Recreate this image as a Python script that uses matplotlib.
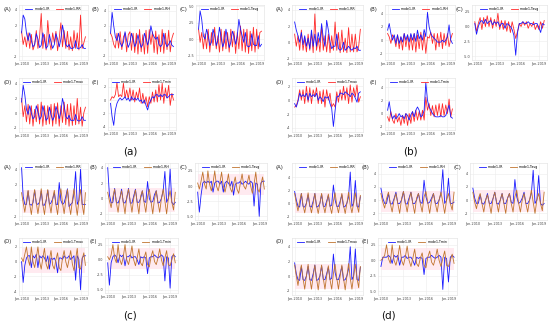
import matplotlib
matplotlib.use("Agg")
import matplotlib.pyplot as plt
import matplotlib.dates as mdates
import pandas as pd
import numpy as np

plt.rcParams['axes.unicode_minus'] = False
plt.rcParams['font.family'] = ['DejaVu Sans']

dates = pd.date_range('2010-01-01', periods=40, freq='QS')
xtick_dates = pd.to_datetime(['2010-01-01', '2013-01-01', '2016-01-01', '2019-01-01'])

# ---------------- panel (a) ----------------
a_A_ir = [1.0, 3.3, 2.8, 1.0, 0.0, 1.0, 0.0, -0.8, -0.5, 0.9, 0.2, -0.9, -0.6, 1.0, 0.1, -1.0, -0.7, 0.8, -0.2, -1.0,
          -0.5, 0.9, 0.2, -0.8, 0.2, 2.0, 0.8, -0.5, -0.8, -0.5, -1.0, -1.0, -0.9, 0.0, -1.0, -1.0, -0.9, -0.5, -1.0, -1.0]
a_A_rr = [1.2, -0.5, 0.5, -0.8, 1.0, -1.0, 0.8, -1.2, -0.5, 1.3, -1.0, 0.5, 3.5, -1.0, 0.8, -1.2, 2.6, 0.0, -1.2, 1.0,
          -0.3, 1.2, -1.3, 0.3, 2.3, -0.8, 1.3, -1.0, 1.2, -1.2, 0.5, -1.3, 1.3, -1.0, 1.0, -1.2, 3.3, -1.0, -0.3, 0.5]
a_B_ir = [1.0, 3.8, 2.0, 0.5, 0.0, 1.0, -0.3, -0.8, -0.2, 1.2, 0.0, -0.9, -0.3, 1.0, 0.2, -0.8, -0.3, 0.8, -0.2, -0.9,
          -0.5, 1.0, 0.3, -0.6, 0.3, 2.0, 1.0, 0.5, 0.2, 0.5, -0.5, -0.8, -0.5, 1.0, -0.3, -0.8, -0.5, 0.0, -0.6, -0.8]
a_B_rh = [1.0, 0.5, -0.5, -1.0, 1.0, -1.0, 1.2, -1.2, 0.5, 1.0, -1.5, 0.8, 1.2, -1.3, 1.0, -1.6, 1.0, -1.8, 1.5, -1.5,
          0.8, -1.8, 1.4, -1.7, 1.5, -0.5, 1.2, -1.6, 1.3, -1.8, 0.8, -1.5, 1.5, -1.7, 1.0, -1.2, 1.4, -1.5, 0.3, 1.0]
a_C_ir = [1.5, 4.3, 3.0, 0.5, 0.0, 1.5, 0.5, -1.0, -0.5, 1.5, 0.5, -1.0, -0.2, 1.8, 0.3, -1.2, -0.5, 1.5, 0.0, -1.3,
          -0.5, 1.2, 0.5, -0.8, 0.5, 3.0, 1.5, 0.5, -0.5, 1.0, -1.0, -1.2, -1.0, 0.8, -0.8, -1.0, -1.0, 0.5, -1.2, -0.8]
a_C_tavg = [1.5, -0.5, 1.0, -1.5, 0.8, -1.5, 1.5, -2.0, 1.0, -1.0, 1.8, -1.5, 0.5, -2.0, 1.5, -1.8, 1.2, -1.5, 1.0, -2.0,
            1.5, -1.2, 1.2, -2.2, 1.0, -1.5, 2.0, -1.8, 1.5, -2.0, 1.5, -2.2, 1.2, -1.8, 1.8, -2.0, 1.5, -1.5, 1.0, 1.2]
a_D_ir = [1.5, 3.8, 2.5, 0.5, -0.2, 1.0, 0.0, -0.8, -0.5, 1.0, 0.2, -0.9, -0.5, 1.0, 0.0, -1.0, -0.7, 0.8, -0.2, -1.0,
          -0.5, 0.9, 0.2, -0.8, 0.2, 2.0, 1.0, -0.5, -0.8, -0.3, -1.0, -1.0, -1.0, -0.2, -1.0, -1.1, -1.0, -0.5, -1.0, -1.0]
a_D_tmax = [2.0, -0.5, 1.0, -1.2, 1.2, -1.5, 1.0, -1.8, 0.5, -1.2, 1.2, -1.5, 1.5, -1.8, 1.0, -1.6, 1.0, -1.5, 1.2, -1.8,
            1.3, -1.5, 1.4, -1.8, 1.0, -1.3, 1.5, -1.6, 1.2, -1.8, 1.3, -1.7, 1.0, -1.6, 2.0, -1.5, 0.8, -1.8, 0.0, 0.8]
a_E_ir = [-0.5, -2.5, -3.8, -1.5, -0.5, 0.0, 0.3, 0.0, 0.2, 0.5, 0.0, 0.3, -0.2, 0.5, 0.0, 0.3, 0.0, 0.3, -0.2, 0.0,
          -0.5, 0.0, -0.8, -1.5, -0.5, 0.0, 0.5, 0.3, 0.8, 0.8, 0.5, 0.8, 0.5, 0.8, 0.8, 0.3, 0.5, 0.8, 0.8, 0.8]
a_E_tmin = [0.0, 0.5, 0.3, 0.8, 2.6, 0.5, 0.8, 0.5, 2.5, 0.3, 1.5, 0.2, 1.8, 0.0, 1.5, -0.3, 1.2, 0.2, 1.8, -0.5,
            1.0, -0.5, 0.5, -1.0, 0.5, -0.5, 1.2, -0.3, 1.5, -0.3, 2.3, 0.0, 2.5, -0.5, 1.8, 0.3, 2.2, -0.8, 1.0, 0.0]

# ---------------- panel (b) ----------------
b_A_ir = [2.5, 1.5, 0.8, 0.0, 1.2, -0.3, 0.8, -0.5, 0.5, -0.8, 1.5, -0.5, 1.0, -0.5, 1.2, 0.0, 2.3, 0.5, -0.5, 2.7,
          1.5, 0.0, -0.8, -0.5, -0.5, 1.0, -0.8, -1.0, -0.8, 0.0, -1.0, -0.8, -0.5, -0.8, -1.0, -0.7, -0.8, -0.5, -1.0, -1.0]
b_A_rr = [1.0, -0.5, 0.8, -1.0, 1.5, -1.0, 0.5, -1.2, 1.0, -1.0, 1.2, -1.3, 3.5, -1.0, 0.5, -1.2, 2.0, -1.0, 0.8, -1.2,
          1.0, -1.3, 0.8, -1.0, 2.5, -1.0, 1.2, -1.3, 1.5, -1.2, 0.5, -1.3, 1.8, -1.2, 1.0, -1.2, 1.0, -1.2, -0.5, 1.6]
b_B_ir = [1.5, 2.5, 1.0, 0.0, 0.8, -0.5, 0.8, -0.5, 0.5, -0.3, 1.0, 0.0, 0.8, -0.3, 1.0, 0.0, 1.0, -0.2, 1.5, 0.2,
          0.8, 0.0, 1.6, 0.5, 4.2, 2.0, 1.0, 0.5, 0.3, 0.0, -0.3, -0.3, -0.3, 0.0, -0.3, 0.0, 0.5, 2.3, 0.0, -0.5]
b_B_rh = [1.0, 0.5, -0.5, 0.8, 0.3, -1.0, 0.8, -1.3, 0.5, -1.5, 1.0, -1.0, 0.8, -1.5, 0.8, -1.5, 1.0, -1.8, 0.8, -1.3,
          1.2, -1.5, 1.0, -2.0, 0.5, 0.3, 1.2, -0.5, 1.0, -1.5, 1.0, -1.0, 1.2, -1.3, 1.0, -0.8, 1.0, -1.0, 0.2, 1.0]
b_C_ir = [0.5, -1.3, 0.0, 0.8, 1.0, 0.5, 1.2, 0.5, 0.8, 1.0, 0.3, 0.8, 0.5, 0.8, 0.0, 0.5, 0.5, -0.3, 0.5, 0.3,
          0.0, -0.5, -1.5, -4.8, -1.0, 0.5, 0.5, 0.8, 0.5, 0.5, 0.8, 0.5, 0.5, 0.3, 0.5, 0.5, -0.2, -1.0, 0.5, 0.3]
b_C_tavg = [0.8, -0.8, 0.5, 1.5, -0.5, 1.5, 0.0, 1.8, 0.0, 1.5, -0.3, 1.2, 0.0, 2.2, -0.5, 1.0, -0.5, 1.0, -0.8, 0.8,
            -1.0, 0.8, -0.5, -2.0, -0.8, 0.5, 0.0, 0.8, 0.2, 0.8, -0.3, 0.5, 0.0, 0.8, -0.5, 0.3, -0.5, 0.8, -0.3, 1.0]
b_D_ir = [-0.5, -1.0, -0.2, 1.0, 0.5, 0.8, 0.5, 1.0, 0.0, 1.0, 0.5, 0.8, 0.5, 1.0, 0.0, 0.5, 0.2, -0.2, 0.5, 0.3,
          0.5, -0.5, -1.2, -3.8, -1.5, 0.5, 0.5, 1.0, 1.0, 0.8, 1.2, 1.0, 0.8, 0.5, 1.0, 0.8, 0.3, -0.3, 1.0, 1.2]
b_D_tmax = [-1.0, -0.8, 0.0, 1.5, 0.0, 1.5, -0.5, 2.0, -0.3, 1.8, -0.5, 1.5, 0.5, 1.8, -0.5, 1.3, -0.5, 1.5, -1.0, 1.5,
            0.0, 1.0, -1.0, -0.5, -1.0, 1.2, -0.3, 1.5, 0.0, 2.0, 0.0, 1.8, -0.5, 2.2, -0.3, 1.8, 0.5, 2.2, -0.3, 0.5]
b_E_ir = [0.5, 1.8, 0.0, -0.8, -0.3, -0.8, -0.5, 0.0, -0.5, -0.3, -0.8, 0.0, -0.3, -1.0, -0.2, 0.3, -0.5, 0.5, 1.0, 0.5,
          -0.5, -0.3, 0.5, 4.7, 2.0, 1.0, 0.5, 0.0, -0.3, -0.5, -0.5, -0.5, -0.3, -0.5, -0.5, -0.3, 0.5, 1.3, -0.5, -0.7]
b_E_tmin = [-0.5, -1.2, 0.3, -1.0, -1.5, 0.0, -1.3, -0.5, -1.8, -0.3, -1.5, 0.0, -1.8, 0.0, -1.5, 0.3, -1.2, 0.5, -1.0, 0.3,
            -1.0, 0.5, -1.0, 2.5, 0.5, 1.5, -0.3, 1.2, -0.5, 1.3, -0.3, 1.5, -0.5, 1.5, -0.3, 1.3, 0.0, 2.2, -0.5, 0.7]

# ---------------- panel (c) ----------------
c_A_ir = [4.2, 0.5, -0.5, -0.5, 1.2, -0.5, -0.6, -0.3, 1.3, -0.4, -0.5, -0.2, 1.2, -0.6, -0.6, 0.0, 1.3, -0.5, -0.3, 0.2,
          1.0, -0.5, -0.5, 2.3, 0.0, -0.5, -0.3, 0.5, 1.5, -0.8, -0.5, -0.3, 1.0, 3.7, -0.5, 0.0, 4.0, -0.5, -0.5, -0.5]
c_A_rr = [1.0, -0.3, -1.5, 0.0, 1.3, -0.5, -1.8, 0.0, 1.4, -0.3, -1.7, -0.2, 1.5, -0.5, -1.8, 0.0, 1.4, -0.4, -1.6, 0.2,
          1.3, -0.5, -1.8, 0.3, 1.5, -0.3, -1.7, 0.0, 1.4, -0.5, -1.8, 0.0, 1.5, -0.3, -1.9, 0.0, 1.4, -0.5, -1.8, 1.0]
c_B_ir = [4.0, 0.5, -0.6, -0.5, 1.3, -0.5, -0.6, 0.0, 1.2, -0.5, -0.6, 0.0, 1.3, -0.6, -0.6, 0.3, 1.2, -0.5, -0.5, 0.0,
          1.0, -0.4, -0.5, 2.2, 0.0, -0.5, -0.4, 0.5, 1.0, -0.6, -0.5, 0.0, 1.0, 3.5, -0.5, 0.0, 3.8, -0.5, -0.8, -0.5]
c_B_rh = [0.8, -0.3, -1.2, 0.2, 1.2, -0.5, -1.8, 0.0, 1.0, -0.5, -2.0, 0.2, 1.2, -0.3, -1.8, 0.0, 1.1, -0.5, -2.0, 0.3,
          1.0, -0.5, -1.8, 0.2, 1.2, -0.4, -2.0, 0.0, 1.0, -0.5, -1.8, 0.0, 1.2, -0.3, -2.0, 0.0, 1.0, -0.5, -1.5, 0.8]
c_C_ir = [-1.0, -4.3, -1.5, 0.5, 0.8, 0.5, 0.8, 0.5, 0.8, -1.0, 0.5, 0.8, 0.8, 0.3, 0.8, -1.0, 0.5, 0.8, 0.5, 0.0,
          0.8, -1.5, 0.3, 0.5, 0.5, 0.8, 0.3, 0.5, 0.8, 0.5, 0.3, 0.8, 0.5, -3.3, 0.5, 0.3, -5.0, 0.5, 0.8, 0.8]
c_C_tavg = [0.5, -0.5, 0.8, 2.3, 0.3, -0.5, 2.5, 0.3, -0.8, 0.5, 2.5, 0.0, -0.8, 0.5, 2.3, 0.0, -1.0, 0.3, 2.0, -0.3,
            -1.0, 0.3, 1.5, -0.5, -1.2, 0.5, 2.0, 0.0, -0.5, 0.5, 1.8, 0.0, -1.2, 0.3, 2.3, -0.5, -1.0, 0.3, 1.5, -0.5]
c_D_ir = [0.0, -2.8, -0.5, 0.5, 0.8, 0.8, -0.8, 0.8, 0.5, 1.0, -0.8, 0.8, 0.5, 0.8, 0.5, 0.0, 0.8, -1.0, 0.5, 0.3,
          0.5, 0.0, -1.5, 0.5, 0.5, 0.3, 0.8, 0.5, 0.5, 0.8, 0.3, 0.5, 0.8, -2.5, 0.8, 0.3, -3.8, 0.5, 0.8, 0.8]
c_D_tmax = [0.5, 0.0, 1.0, 2.0, 0.3, -0.5, 2.0, 0.0, -0.8, 0.5, 2.0, 0.0, -1.0, 0.5, 1.8, -0.3, -1.0, 0.3, 1.5, -0.5,
            -1.0, 0.3, 1.2, -0.8, -1.2, 0.5, 1.5, 0.0, -0.8, 0.3, 1.5, -0.3, -1.2, 0.3, 1.8, -0.8, -1.0, 0.3, 1.2, -0.5]
c_E_ir = [-0.5, -4.2, -0.5, 0.5, 0.8, 0.5, -0.5, 0.8, 0.5, 0.8, -1.0, 0.5, 0.5, 0.8, 0.3, 0.5, 0.5, 0.0, -0.8, 0.5,
          0.3, 0.5, 0.3, -2.3, 0.3, 0.5, 0.5, 0.8, 0.5, 0.3, 0.5, 0.8, 0.5, -3.5, 0.5, 0.3, -4.7, 0.5, 0.8, 0.5]
c_E_tmin = [0.5, 0.0, 0.8, 2.5, 0.3, -0.5, 2.5, 0.0, -0.8, 0.5, 2.5, 0.0, -0.8, 0.5, 2.3, 0.0, -1.0, 0.3, 1.8, -0.5,
            -1.0, 0.3, 1.3, -0.8, -1.2, 0.5, 1.5, -0.3, -0.8, 0.3, 1.8, 0.0, -1.0, 0.3, 1.5, -0.8, -1.0, 0.0, 1.0, -0.5]

# ---------------- panel (d) ----------------
d_A_ir = [1.8, 0.5, -0.5, -0.6, 1.5, -0.5, -0.6, 0.0, 1.3, -0.5, -0.6, 0.3, 1.5, -0.6, -0.5, 0.0, 1.4, -0.5, -0.5, 0.3,
          1.2, -0.5, -0.3, 2.8, 0.5, -0.5, -0.5, 0.3, 1.3, -0.6, -0.5, 0.0, 1.0, 4.8, -0.5, 0.0, 3.5, -0.5, -0.6, 1.0]
d_A_rr = [1.5, 0.0, -1.2, 0.3, 1.5, -0.3, -1.5, 0.0, 1.6, -0.3, -1.5, 0.0, 1.5, -0.3, -1.6, 0.0, 1.5, -0.3, -1.5, 0.0,
          1.4, -0.5, -1.6, 0.3, 1.6, -0.3, -1.5, 0.0, 1.5, -0.3, -1.6, 0.0, 1.7, -0.3, -1.5, 0.0, 1.6, -0.3, -1.4, 1.2]
d_B_ir = [1.8, 0.3, -0.5, -0.5, 1.0, -0.5, -0.6, 0.2, 1.2, -0.5, -0.5, 0.0, 1.3, -0.5, -0.6, 0.3, 1.2, -0.5, -0.5, 0.0,
          1.0, -0.3, -0.5, 3.0, 0.5, -0.5, -0.3, 0.3, 1.0, -0.5, -0.5, 0.0, 1.0, 4.6, -0.5, 0.0, 3.3, -0.5, -0.5, -0.3]
d_B_rh = [1.0, -0.3, -1.2, 0.2, 1.2, -0.5, -1.8, 0.0, 1.0, -0.5, -2.0, 0.2, 1.3, -0.3, -1.8, 0.0, 1.2, -0.5, -2.0, 0.3,
          1.0, -0.5, -1.8, 0.5, 1.3, -0.4, -2.0, 0.0, 1.0, -0.5, -1.8, 0.0, 1.2, -0.3, -2.0, 0.0, 1.0, -0.5, -1.5, 1.2]
d_C_ir = [1.8, 0.3, -0.5, -0.5, 0.8, -0.5, -0.6, 0.0, 1.0, -0.5, -0.5, 0.2, 1.2, -0.5, -0.6, 0.0, 1.0, -0.5, -0.5, 0.3,
          1.0, -0.3, -0.5, 3.1, 0.5, -0.5, -0.3, 0.3, 1.2, -0.5, -0.5, 0.0, 1.0, 4.5, -0.5, 0.0, 3.7, -0.5, -0.8, -0.5]
d_C_tavg = [1.2, -0.3, -1.3, 0.2, 1.0, -0.5, -1.8, 0.0, 0.8, -0.5, -2.0, 0.2, 1.2, -0.3, -1.8, 0.0, 1.0, -0.5, -2.0, 0.3,
            1.0, -0.5, -1.8, 0.5, 1.5, -0.4, -1.8, 0.0, 1.0, -0.5, -1.8, 0.0, 1.5, -0.3, -2.0, 0.0, 1.0, -0.5, -1.6, 1.2]
d_D_ir = [1.8, 0.3, -0.5, -0.6, 1.3, -0.5, -0.6, 0.0, 1.3, -0.5, -0.6, 0.3, 1.5, -0.6, -0.5, 0.0, 1.4, -0.5, -0.5, 0.3,
          1.2, -0.5, -0.3, 3.0, 0.5, -0.5, -0.5, 0.3, 1.3, -0.6, -0.5, 0.0, 1.0, 4.0, -0.5, 0.0, 3.7, -0.5, -0.6, 1.2]
d_D_tmax = [1.5, 0.0, -1.3, 0.3, 1.5, -0.3, -1.8, 0.0, 1.6, -0.3, -1.8, 0.0, 1.5, -0.3, -1.9, 0.0, 1.5, -0.3, -1.8, 0.0,
            1.4, -0.5, -1.8, 0.3, 1.6, -0.3, -1.8, 0.0, 1.5, -0.3, -1.9, 0.0, 1.7, -0.3, -1.8, 0.0, 1.6, -0.3, -1.6, 1.3]
d_E_ir = [-1.0, 0.5, 0.5, 0.5, 0.8, 0.5, -0.5, 0.8, 0.5, 0.8, -0.8, 0.5, 0.5, 0.8, 0.3, 0.5, 0.5, 0.0, -0.8, 0.5,
          0.3, 0.5, 0.3, -2.3, 0.3, 0.5, 0.5, 0.8, 0.5, 0.3, 0.5, 0.8, 0.5, -4.7, 0.5, 0.3, -3.5, 0.5, 0.8, 0.5]
d_E_tmin = [0.0, 0.3, 0.8, 2.5, 0.3, -0.5, 2.5, 0.0, -0.8, 0.5, 2.4, 0.0, -0.8, 0.5, 2.3, 0.0, -1.0, 0.3, 1.8, -0.5,
            -1.0, 0.3, 1.2, -0.8, -1.2, 0.5, 1.5, -0.3, -0.8, 0.3, 1.8, 0.0, -1.0, 0.3, 1.5, -0.8, -1.0, 0.0, 1.0, -0.5]

# pink band limits for (c) and (d)
band_c = {'A': (-1.6, 1.4), 'B': (-1.8, 1.3), 'C': (-1.5, 2.0), 'D': (-1.5, 1.8), 'E': (-1.5, 2.0)}
band_d = {'A': (-1.5, 1.6), 'B': (-1.8, 1.3), 'C': (-1.8, 1.5), 'D': (-1.8, 1.6), 'E': (-1.5, 2.0)}

W, H = 550, 323
fig = plt.figure(figsize=(W / 100, H / 100), dpi=100)
fig.patch.set_facecolor('white')

BLUE = '#1a1aff'
RED = '#ff2a2a'
BROWN = '#c0742e'

T_INT = [-4, -2, 0, 2, 4]
T_HALF = [-5.0, -2.5, 0.0, 2.5, 5.0]


def make_ax(box, tag, ir, other, other_label, other_color, ylim, yticks, fmt, band=None):
    l, r, t, b = box
    ax = fig.add_axes([l / W, 1 - b / H, (r - l) / W, (b - t) / H])
    ax.set_facecolor('white')
    if band is not None:
        ax.fill_between(dates, band[0], band[1], color='#ffe3eb', alpha=0.75, lw=0, zorder=1)
    ax.plot(dates, ir, color=BLUE, lw=0.6, label='mode1-IR', zorder=3)
    ax.plot(dates, other, color=other_color, lw=0.6, label=other_label, zorder=2 if band is None else 3)
    ax.set_ylim(*ylim)
    ax.set_yticks([v for v in yticks if ylim[0] <= v <= ylim[1]])
    ax.yaxis.set_major_formatter(matplotlib.ticker.FormatStrFormatter(fmt))
    ax.set_xticks(xtick_dates)
    ax.xaxis.set_major_formatter(mdates.DateFormatter('%b-%Y'))
    ax.margins(x=0.04)
    ax.tick_params(labelsize=2.4, length=0, pad=1.2, colors='#444444')
    ax.grid(True, color='#ececec', lw=0.4)
    ax.set_axisbelow(True)
    for s in ax.spines.values():
        s.set_color('#e0e0e0')
        s.set_linewidth(0.4)
    ax.legend(loc='upper center', ncol=2, frameon=False, fontsize=2.3,
              handlelength=2.2, columnspacing=2.0, borderaxespad=0.15, handletextpad=0.6)
    fig.text((l - 16) / W, 1 - (t + 4) / H, tag, fontsize=3.8, ha='left', va='center', color='#222222')
    return ax


# boxes (left, right, top, bottom) in pixels
boxes_a = {'A': (19, 88, 5, 60), 'B': (108, 176, 5, 60), 'C': (196, 264, 5, 60),
           'D': (19, 88, 78, 132), 'E': (108, 176, 78, 130)}
boxes_b = {'A': (292, 363, 5, 60), 'B': (385, 455, 5, 60), 'C': (472, 547, 5, 60),
           'D': (292, 363, 78, 132), 'E': (385, 455, 78, 130)}
boxes_c = {'A': (19, 88, 163, 220), 'B': (105, 178, 163, 220), 'C': (195, 267, 163, 220),
           'D': (19, 88, 238, 295), 'E': (105, 178, 238, 293)}
boxes_d = {'A': (292, 363, 163, 220), 'B': (378, 457, 163, 220), 'C': (470, 547, 163, 220),
           'D': (292, 363, 238, 295), 'E': (378, 457, 238, 295)}

# panel (a)
make_ax(boxes_a['A'], '(A)', a_A_ir, a_A_rr, 'mode1-RR', RED, (-2.5, 4.6), T_INT, '%d')
make_ax(boxes_a['B'], '(B)', a_B_ir, a_B_rh, 'mode1-RH', RED, (-2.6, 4.8), T_INT, '%d')
make_ax(boxes_a['C'], '(C)', a_C_ir, a_C_tavg, 'mode1-Tavg', RED, (-3.2, 5.2), T_HALF, '%.1f')
make_ax(boxes_a['D'], '(D)', a_D_ir, a_D_tmax, 'mode1-Tmax', RED, (-2.6, 4.8), T_INT, '%d')
make_ax(boxes_a['E'], '(E)', a_E_ir, a_E_tmin, 'mode1-Tmin', RED, (-4.5, 3.3), T_INT, '%d')

# panel (b)
make_ax(boxes_b['A'], '(A)', b_A_ir, b_A_rr, 'mode1-RR', RED, (-2.2, 4.6), T_INT, '%d')
make_ax(boxes_b['B'], '(B)', b_B_ir, b_B_rh, 'mode1-RH', RED, (-3.0, 5.3), T_INT, '%d')
make_ax(boxes_b['C'], '(C)', b_C_ir, b_C_tavg, 'mode1-Tavg', RED, (-5.6, 3.6), T_HALF, '%.1f')
make_ax(boxes_b['D'], '(D)', b_D_ir, b_D_tmax, 'mode1-Tmax', RED, (-4.6, 3.2), T_INT, '%d')
make_ax(boxes_b['E'], '(E)', b_E_ir, b_E_tmin, 'mode1-Tmin', RED, (-2.5, 5.4), T_INT, '%d')

# panel (c)
make_ax(boxes_c['A'], '(A)', c_A_ir, c_A_rr, 'mode1-RR', BROWN, (-2.5, 4.8), T_INT, '%d', band_c['A'])
make_ax(boxes_c['B'], '(B)', c_B_ir, c_B_rh, 'mode1-RH', BROWN, (-2.8, 4.6), T_INT, '%d', band_c['B'])
make_ax(boxes_c['C'], '(C)', c_C_ir, c_C_tavg, 'mode1-Tavg', BROWN, (-5.6, 3.8), T_HALF, '%.1f', band_c['C'])
make_ax(boxes_c['D'], '(D)', c_D_ir, c_D_tmax, 'mode1-Tmax', BROWN, (-4.5, 3.2), T_INT, '%d', band_c['D'])
make_ax(boxes_c['E'], '(E)', c_E_ir, c_E_tmin, 'mode1-Tmin', BROWN, (-5.5, 3.6), T_HALF, '%.1f', band_c['E'])

# panel (d)
make_ax(boxes_d['A'], '(A)', d_A_ir, d_A_rr, 'mode1-RR', BROWN, (-2.6, 6.2), T_INT, '%d', band_d['A'])
make_ax(boxes_d['B'], '(B)', d_B_ir, d_B_rh, 'mode1-RH', BROWN, (-3.0, 5.6), T_INT, '%d', band_d['B'])
make_ax(boxes_d['C'], '(C)', d_C_ir, d_C_tavg, 'mode1-Tavg', BROWN, (-3.0, 5.6), T_INT, '%d', band_d['C'])
make_ax(boxes_d['D'], '(D)', d_D_ir, d_D_tmax, 'mode1-Tmax', BROWN, (-2.6, 5.2), T_INT, '%d', band_d['D'])
make_ax(boxes_d['E'], '(E)', d_E_ir, d_E_tmin, 'mode1-Tmin', BROWN, (-5.6, 3.6), T_HALF, '%.1f', band_d['E'])

# panel labels
for txt, x, y in [('(a)', 130, 152), ('(b)', 410, 152), ('(c)', 130, 315), ('(d)', 388, 315)]:
    fig.text(x / W, 1 - y / H, txt, fontsize=7.5, ha='center', va='center', color='#111111')

fig.savefig('out.png', dpi=100, facecolor='white')
